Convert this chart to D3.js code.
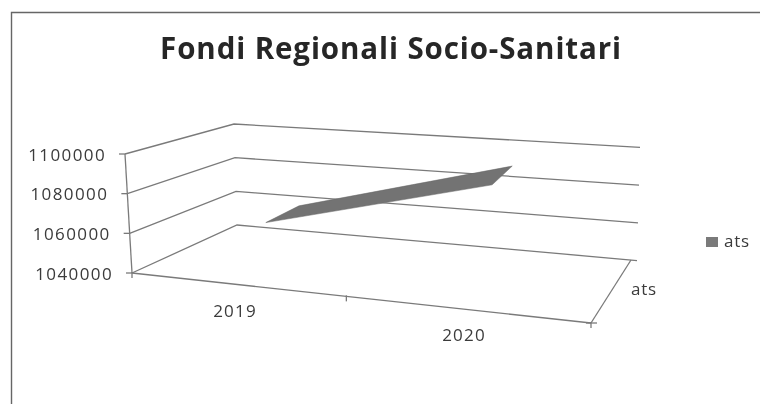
<!DOCTYPE html>
<html><head><meta charset="utf-8">
<script src="https://cdn.jsdelivr.net/npm/d3@7"></script>
<style>html,body{margin:0;padding:0;background:#fff}svg{display:block}text{font-family:"Open Sans",sans-serif;fill:#3a3a3a}</style>
</head><body><svg id="c" width="760" height="404"></svg>
<script>
const categories = ["2019", "2020"];
const seriesName = "ats";
const seriesValues = [1066500, 1097500];
const tickValues = [1040000, 1060000, 1080000, 1100000];
const chartTitle = "Fondi Regionali Socio-Sanitari";

const svg = d3.select("#c");
svg.append("defs").append("filter").attr("id","scan").append("feGaussianBlur").attr("stdDeviation",0.5);
const root = svg.append("g").attr("filter","url(#scan)");

// frame: only the top and left edges are visible in the scan
root.append("path").attr("d","M11.5,410V12.5H770").attr("fill","none").attr("stroke","#666").attr("stroke-width",1.4);

const v = d3.scaleLinear().domain([1040000,1100000]).range([0,1]);
// category boundaries along the floor (the projection squeezes the first band)
const catBound = d3.scaleLinear().domain([0,1,2]).range([0,0.467,1]);
const ribbonCentre = d3.scaleBand().domain(categories).range([0,1]);
// box corners: [front-left, front-right, back-left, back-right]
const floorC = [[132,273],[591,323],[237,225],[631,260]];
const topC   = [[125,154],[598,204],[234,124],[634,147]];
const mix = (a,b,t)=>[a[0]+(b[0]-a[0])*t,a[1]+(b[1]-a[1])*t];
function proj(u,val,w){
  const bottom = mix(mix(floorC[0],floorC[1],u),mix(floorC[2],floorC[3],u),w);
  const top = mix(mix(topC[0],topC[1],u),mix(topC[2],topC[3],u),w);
  return mix(bottom,top,v(val));
}
const line = d3.line();
const axisCol = "#7a7a7a";
function seg(pts,sw){root.append("path").attr("d",line(pts)).attr("fill","none").attr("stroke",axisCol).attr("stroke-width",sw||1.3);}

// gridlines on side and back wall, running slightly past the corner
tickValues.forEach(t=>{
  const end = proj(1,t,1), prev = proj(0,t,1);
  const k = 6/(end[0]-prev[0]);
  seg([proj(0,t,0),prev,[end[0]+6,end[1]+(end[1]-prev[1])*k]]);
});
// floor edges
seg([proj(0,1040000,0),proj(1,1040000,0)]);
seg([proj(1,1040000,0),proj(1,1040000,1)]);
// value axis
seg([proj(0,1040000,0),proj(0,1100000,0)]);
tickValues.forEach(t=>{
  const p=proj(0,t,0);
  seg([[p[0]-6,p[1]],[p[0],p[1]]]);
  root.append("text").attr("x",p[0]-19).attr("y",p[1]+6.5).attr("text-anchor","end")
    .attr("font-size",17).attr("letter-spacing",1.4).text(d3.format("d")(t));
});
// category ticks
[0,1,2].forEach(i=>{
  const p=proj(catBound(i),1040000,0);
  seg([[p[0],p[1]-1],[p[0],p[1]+5]]);
});
const last=proj(1,1040000,0); seg([[last[0]-5,last[1]],[last[0]+6,last[1]]]);
const catPos=[[235,317],[464,341]];
categories.forEach((c,i)=>{
  root.append("text").attr("x",catPos[i][0]).attr("y",catPos[i][1]).attr("text-anchor","middle")
    .attr("font-size",17).attr("letter-spacing",1.2).text(c);
});
root.append("text").attr("x",631).attr("y",295).attr("font-size",17).attr("letter-spacing",0.8).text(seriesName);

// series ribbon
const u0 = i=>ribbonCentre(categories[i])+ribbonCentre.bandwidth()/2;
const wFront=0.23, wBack=0.6;
const ribbon=[proj(u0(0),seriesValues[0],wFront),proj(u0(0),seriesValues[0],wBack),proj(u0(1),seriesValues[1],wBack),proj(u0(1),seriesValues[1],wFront)];
root.append("path").attr("d",line(ribbon)+"Z").attr("fill","#737373").attr("stroke","#666").attr("stroke-width",0.5);

// legend
root.append("rect").attr("x",706).attr("y",237).attr("width",12).attr("height",10).attr("fill","#7a7a7a");
root.append("text").attr("x",724).attr("y",247).attr("font-size",17).attr("letter-spacing",0.8).text(seriesName);
// title
root.append("text").attr("x",391).attr("y",58.5).attr("text-anchor","middle").attr("font-size",29.5)
  .attr("font-weight",700).attr("letter-spacing",0.9).style("fill","#262626").text(chartTitle);
</script></body></html>
